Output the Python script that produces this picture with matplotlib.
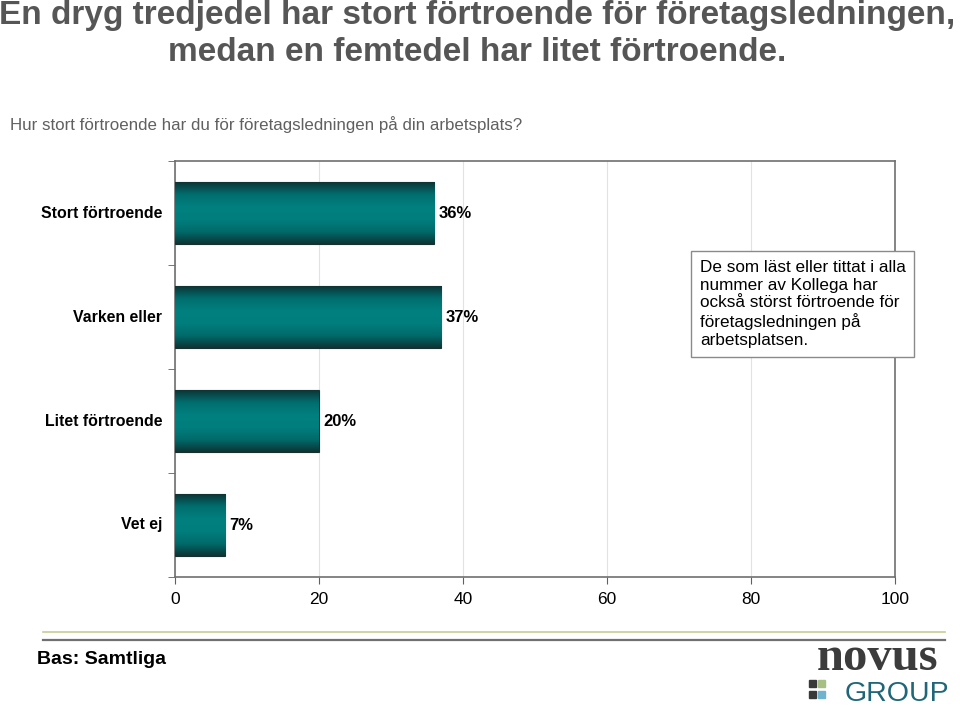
import matplotlib.pyplot as plt
import matplotlib.patches as mpatches
from matplotlib.colors import LinearSegmentedColormap
import numpy as np

plt.rcParams['font.family'] = ['Liberation Sans', 'DejaVu Sans']

# data
categories = ['Stort förtroende', 'Varken eller', 'Litet förtroende', 'Vet ej']
values = [36, 37, 20, 7]
value_labels = ['36%', '37%', '20%', '7%']
xticks = [0, 20, 40, 60, 80, 100]

title = 'En dryg tredjedel har stort förtroende för företagsledningen,\nmedan en femtedel har litet förtroende.'
subtitle = 'Hur stort förtroende har du för företagsledningen på din arbetsplats?'
note = ('De som läst eller tittat i alla\nnummer av Kollega har\nockså störst förtroende för\n'
        'företagsledningen på\narbetsplatsen.')

fig = plt.figure(figsize=(9.6, 7.06), dpi=100)
ax = fig.add_axes([175 / 960, 1 - 577 / 706, 720 / 960, 416 / 706])

y = np.arange(len(categories))
bars = ax.barh(y, values, height=0.59, color='#007878', edgecolor='#1a2e2e', linewidth=0.8, zorder=3)

# vertical gradient inside each bar: dark edges, bright teal middle
cmap = LinearSegmentedColormap.from_list('teal', ['#0d3434', '#006e6e', '#008080', '#007e7e', '#006a6a', '#0d3434'])
grad = np.linspace(0, 1, 256).reshape(-1, 1)
for b in bars:
    x0, y0 = b.get_x(), b.get_y()
    w, h = b.get_width(), b.get_height()
    im = ax.imshow(grad, cmap=cmap, aspect='auto', extent=[x0, x0 + w, y0 + h, y0],
                   zorder=3.5, interpolation='bicubic')
    im.set_clip_path(b)

for yi, v, lab in zip(y, values, value_labels):
    ax.text(v + 0.6, yi, lab, va='center', ha='left', fontsize=12, fontweight='bold', color='black', zorder=5)

ax.set_xlim(0, 100)
ax.set_ylim(3.5, -0.5)
ax.set_xticks(xticks)
ax.set_xticklabels([str(t) for t in xticks], fontsize=12.5)
ax.set_yticks([])
ax.set_yticks([-0.5, 0.5, 1.5, 2.5, 3.5], minor=True)
ax.tick_params(axis='y', which='minor', length=5, color='#606060', direction='out')
ax.tick_params(axis='x', length=5, color='#606060', pad=6)
for i, c in enumerate(categories):
    ax.text(-1.8, i, c, ha='right', va='center', fontsize=11.4, fontweight='bold')

ax.grid(axis='x', color='#e2e2e2', linewidth=0.8, zorder=0)
for s in ax.spines.values():
    s.set_color('#707070')
    s.set_linewidth(1.2)

# title + subtitle
fig.text(0.497, 1 - 34 / 706, title, ha='center', va='center', fontsize=24,
         fontweight='bold', color='#565656', linespacing=1.25)
fig.text(10 / 960, 1 - 125 / 706, subtitle, ha='left', va='center', fontsize=12.2, color='#606060')

# note box
fig.text(700 / 960, 1 - 304 / 706, note, ha='left', va='center', fontsize=12.3, color='black',
         linespacing=1.22,
         bbox=dict(boxstyle='square,pad=0.5', facecolor='white', edgecolor='#8a8a8a', linewidth=1))

# footer lines
fig.add_artist(plt.Line2D([43 / 960, 945 / 960], [1 - 632 / 706] * 2, color='#c8cc96', linewidth=1.2))
fig.add_artist(plt.Line2D([43 / 960, 945 / 960], [1 - 640 / 706] * 2, color='#707070', linewidth=1.6))
fig.text(37 / 960, 1 - 660 / 706, 'Bas: Samtliga', ha='left', va='center', fontsize=14, fontweight='bold')

# logo
fig.text(878 / 960, 1 - 680 / 706, 'novus', ha='center', va='bottom', fontsize=35, fontweight='bold',
         family='Liberation Serif', color='#3c3c3c')
fig.text(949 / 960, 1 - 681 / 706, 'GROUP', ha='right', va='top', fontsize=20.5, color='#1f6678')
sq = 7
for (px, py, col) in [(809, 680, '#3a3a3a'), (818, 680, '#a8bf84'), (809, 691, '#3a3a3a'), (818, 691, '#6fb3cf')]:
    fig.add_artist(mpatches.Rectangle((px / 960, 1 - (py + sq) / 706), sq / 960, sq / 706,
                                      transform=fig.transFigure, color=col))

fig.savefig('out.png', dpi=100)
